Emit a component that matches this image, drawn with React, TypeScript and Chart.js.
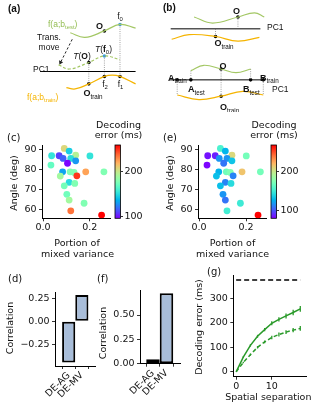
import React, { useEffect, useRef } from 'react';
import { Chart, registerables } from 'chart.js';
Chart.register(...registerables);

const W = 317, H = 411;
const FONT = '"DejaVu Sans", sans-serif';
const SFONT = '"Liberation Sans", Arial, sans-serif';
const GREEN_C = '#a3c764';
const ORANGE_C = '#f5b400';
const BLUE_PT = '#3a9ee0';
const DOT_C = '#8a8a8a';

// ---------- (c)/(e) data ----------
const MIXED_VAR = [0.091, 0.112, 0.037, 0.069, 0.086, 0.140, 0.201, 0.119, 0.140, 0.105, 0.034, 0.084, 0.116, 0.133, 0.145, 0.183, 0.261, 0.074, 0.112, 0.136, 0.091, 0.102, 0.112, 0.176, 0.119, 0.251];
const ANGLE = [90.3, 89.0, 86.7, 86.7, 85.4, 87.0, 86.6, 85.4, 84.2, 83.0, 82.1, 78.8, 78.8, 78.5, 76.8, 78.8, 78.8, 76.7, 73.6, 73.1, 71.9, 67.7, 64.9, 63.3, 59.6, 57.5];
const ERR_C = [207, 145, 153, 109, 116, 194, 153, 150, 129, 97, 169, 132, 178, 178, 248, 223, 178, 189, 150, 178, 174, 173, 189, 178, 235, 259];
const ERR_E = [155, 128, 85, 88, 118, 207, 170, 118, 133, 109, 82, 127, 168, 174, 113, 215, 170, 131, 113, 142, 131, 118, 109, 150, 152, 267];
const CB_C = [96, 259];
const CB_E = [81, 267];
const CB_TICKS = [100, 200];

// ---------- (d)/(f) data ----------
const BAR_LABELS = ['DE-AG', 'DE-MV'];
const CORR_D = [-0.45, 0.285];
const CORR_F = [0.045, 0.724];

// ---------- (g) data ----------
const SEPARATION = [0, 2, 4, 6, 8, 10, 12, 14, 16, 18];
const ERR_SOLID = [0, 60, 108, 145, 172, 198, 214, 228, 242, 257];
const ERR_SOLID_SD = [0, 3, 5, 6, 7, 8, 9, 10, 11, 12];
const ERR_DASHED = [0, 38, 70, 100, 122, 140, 152, 162, 170, 177];
const ERR_DASHED_SD = [0, 3, 4, 5, 6, 7, 8, 8, 9, 10];
const CHANCE = 375;

// ---------- (a)/(b) schematic (panel units) ----------
const A_TEST = [[68, 31], [83, 36], [103, 29], [119, 22], [135, 26]];
const A_MOVED = [[56, 65.5], [67, 70], [87, 63], [103, 56], [119, 60]];
const A_TRAIN = [[64, 90], [73, 91.5], [87, 86], [103, 78], [111, 76.5], [119, 78], [135, 86]];
const A_PC1 = [[37, 72.7], [135, 72.7]];
const A_ARROW = [[70, 38], [58, 63]];
const A_DOTTED = [[[119, 22], [119, 77.5]], [[103, 56], [103, 78]], [[87, 63], [87, 86]]];
const A_BLACK = [[103, 29], [87, 63], [103, 78], [119, 78], [87, 86]];
const A_BLUE = [[119, 22], [103, 56]];

const B_TEST_TOP = [[195, 14], [214, 20.5], [240, 14], [257, 9.5], [267, 14]];
const B_TRAIN_TOP = [[172, 38], [190, 33], [217, 35], [240, 40], [262, 36]];
const B_PC1_TOP = [[171, 26.7], [263, 26.7]];
const B_TEST_BOT = [[191.7, 71.7], [205, 66], [222.7, 70], [238, 74], [253, 70]];
const B_TRAIN_BOT = [[177.7, 98], [200, 103], [222.7, 99.3], [245, 94], [266, 98]];
const B_PC1_BOT = [[170, 81.7], [267, 81.7]];
const B_DOTTED = [[[240, 14], [240, 26.7]], [[217, 26.7], [217, 35]], [[191.7, 71.7], [191.7, 81.7]], [[253, 70], [253, 81.7]], [[177.7, 81.7], [177.7, 98]], [[266, 81.7], [266, 98]], [[222.7, 70], [222.7, 99.3]]];
const B_BLACK = [[240, 14], [217, 35], [222.7, 70], [177.7, 81.7], [191.7, 81.7], [253, 81.7], [266, 81.7], [222.7, 99.3]];

const rainbow = (t: number) => {
  t = Math.max(0, Math.min(1, t));
  const r = Math.min(1, Math.abs(2 * t - 0.5));
  const g = Math.sin(Math.PI * t);
  const b = Math.cos((Math.PI * t) / 2);
  return `rgb(${Math.round(r * 255)},${Math.round(g * 255)},${Math.round(b * 255)})`;
};

type Part = { t: string; sub?: boolean; b?: boolean; i?: boolean };
type Label = { x: number; y: number; p: Part[] | string; size?: number; color?: string; align?: 'left' | 'center' | 'right'; rot?: number; family?: string; bold?: boolean };

function drawRich(ctx: CanvasRenderingContext2D, it: Label) {
  const size = it.size ?? 9.5;
  const fam = it.family ?? FONT;
  const parts: Part[] = typeof it.p === 'string' ? [{ t: it.p }] : it.p;
  const fontOf = (p: Part) => `${p.i ? 'italic ' : ''}${p.b || it.bold ? 'bold ' : ''}${p.sub ? size * 0.7 : size}px ${fam}`;
  let total = 0;
  const widths = parts.map((p) => { ctx.font = fontOf(p); const w = ctx.measureText(p.t).width; total += w; return w; });
  ctx.save();
  ctx.translate(it.x, it.y);
  if (it.rot) ctx.rotate((it.rot * Math.PI) / 180);
  let x0 = it.align === 'left' ? 0 : it.align === 'right' ? -total : -total / 2;
  ctx.fillStyle = it.color ?? '#111';
  ctx.textBaseline = 'alphabetic';
  ctx.textAlign = 'left';
  const base = size * 0.36;
  parts.forEach((p, i) => { ctx.font = fontOf(p); ctx.fillText(p.t, x0, base + (p.sub ? size * 0.28 : 0)); x0 += widths[i]; });
  ctx.restore();
}

const textPlugin = {
  id: 'texts',
  afterDraw(chart: any, _a: any, opts: any) {
    (opts.items || []).forEach((it: Label) => drawRich(chart.ctx, it));
  },
};

const cbarPlugin = {
  id: 'cbar',
  beforeDatasetsDraw(chart: any) {
    const { ctx, chartArea: a } = chart;
    const g = ctx.createLinearGradient(0, a.bottom, 0, a.top);
    for (let i = 0; i <= 24; i++) g.addColorStop(i / 24, rainbow(i / 24));
    ctx.save();
    ctx.fillStyle = g;
    ctx.fillRect(a.left, a.top, a.right - a.left, a.bottom - a.top);
    ctx.strokeStyle = '#000';
    ctx.lineWidth = 0.8;
    ctx.strokeRect(a.left, a.top, a.right - a.left, a.bottom - a.top);
    ctx.restore();
  },
};

const errPlugin = {
  id: 'errbars',
  afterDatasetsDraw(chart: any, _a: any, opts: any) {
    const { ctx } = chart;
    const xs = chart.scales.x, ys = chart.scales.y;
    (opts.sets || []).forEach((s: any) => {
      ctx.save();
      ctx.strokeStyle = s.color;
      ctx.lineWidth = 1.3;
      s.x.forEach((xv: number, i: number) => {
        const e = s.err[i];
        if (!e) return;
        const px = xs.getPixelForValue(xv);
        ctx.beginPath();
        ctx.moveTo(px, ys.getPixelForValue(s.y[i] - e));
        ctx.lineTo(px, ys.getPixelForValue(s.y[i] + e));
        ctx.stroke();
      });
      ctx.restore();
    });
  },
};

const fix = (size: number, horiz: boolean) => (s: any) => {
  if (horiz) s.height = size; else s.width = size;
  s.paddingLeft = 0; s.paddingRight = 0; s.paddingTop = 0; s.paddingBottom = 0;
};

type Area = { l: number; t: number; r: number; b: number };
const pad = (a: Area, yW: number, xH: number, rightW = 0) => ({ left: a.l - yW, top: a.t, right: W - a.r - rightW, bottom: H - a.b - xH });

const tickFont = { family: FONT, size: 9.5 };
const gridTicks = { display: true, drawOnChartArea: false, drawTicks: true, tickLength: 3, tickColor: '#000', tickWidth: 0.8 };
const spine = { display: true, color: '#000', width: 1 };
const base = { responsive: false, animation: false as const, events: [] as any[] };

function scatterCfg(area: Area, errs: number[], cb: number[], labels: Label[]) {
  return {
    type: 'scatter',
    data: {
      datasets: [{
        data: MIXED_VAR.map((x, i) => ({ x, y: ANGLE[i] })),
        pointBackgroundColor: errs.map((v) => rainbow((v - cb[0]) / (cb[1] - cb[0]))),
        pointBorderWidth: 0,
        pointRadius: 3.4,
      }],
    },
    options: {
      ...base,
      layout: { padding: pad(area, 30, 20) },
      plugins: { legend: { display: false }, tooltip: { enabled: false }, texts: { items: labels } },
      scales: {
        x: {
          type: 'linear', min: -0.0043, max: 0.287,
          afterBuildTicks: (s: any) => { s.ticks = [{ value: 0 }, { value: 0.2 }]; },
          ticks: { font: tickFont, color: '#111', padding: 1, callback: (v: number) => v.toFixed(1) },
          grid: gridTicks, border: spine, afterFit: fix(20, true),
        },
        y: {
          type: 'linear', min: 55.9, max: 92,
          afterBuildTicks: (s: any) => { s.ticks = [60, 70, 80, 90].map((value) => ({ value })); },
          ticks: { font: tickFont, color: '#111', padding: 2.5 },
          grid: gridTicks, border: spine, afterFit: fix(30, false),
        },
      },
    },
    plugins: [textPlugin],
  };
}

function cbarCfg(area: Area, cb: number[]) {
  return {
    type: 'scatter',
    data: { datasets: [] },
    options: {
      ...base,
      layout: { padding: pad(area, 0, 0, 25) },
      plugins: { legend: { display: false }, tooltip: { enabled: false } },
      scales: {
        x: { display: false, min: 0, max: 1 },
        y: {
          position: 'right', min: cb[0], max: cb[1],
          afterBuildTicks: (s: any) => { s.ticks = CB_TICKS.map((value) => ({ value })); },
          ticks: { font: tickFont, color: '#111', padding: 1.5 },
          grid: { ...gridTicks, tickLength: 2.5 }, border: { display: false }, afterFit: fix(25, false),
        },
      },
    },
    plugins: [cbarPlugin],
  };
}

function barCfg(area: Area, vals: number[], xr: number[], yr: number[], yTicks: number[], labels: Label[]) {
  return {
    type: 'bar',
    data: {
      datasets: [{
        data: vals.map((y, i) => ({ x: i, y })),
        backgroundColor: '#a8bdd9', borderColor: '#000', borderWidth: 2, borderSkipped: false,
        barPercentage: 1, categoryPercentage: 1, inflateAmount: 0,
      }],
    },
    options: {
      ...base,
      layout: { padding: pad(area, 45, 40) },
      plugins: { legend: { display: false }, tooltip: { enabled: false }, texts: { items: labels } },
      scales: {
        x: {
          type: 'linear', min: xr[0], max: xr[1], offset: false,
          afterBuildTicks: (s: any) => { s.ticks = [{ value: 0 }, { value: 1 }]; },
          ticks: { font: tickFont, color: '#111', padding: 1, minRotation: 45, maxRotation: 45, autoSkip: false, callback: (v: number) => BAR_LABELS[v] },
          grid: gridTicks, border: spine, afterFit: fix(40, true),
        },
        y: {
          type: 'linear', min: yr[0], max: yr[1],
          afterBuildTicks: (s: any) => { s.ticks = yTicks.map((value) => ({ value })); },
          ticks: { font: tickFont, color: '#111', padding: 2.5, callback: (v: number) => (v < 0 ? '\u2212' : '') + Math.abs(v).toFixed(2) },
          grid: gridTicks, border: spine, afterFit: fix(45, false),
        },
      },
    },
    plugins: [textPlugin],
  };
}

function lineCfg(area: Area, labels: Label[]) {
  const pts = (ys: number[]) => SEPARATION.map((x, i) => ({ x, y: ys[i] }));
  return {
    type: 'scatter',
    data: {
      datasets: [
        { data: [{ x: SEPARATION[0], y: CHANCE }, { x: SEPARATION[SEPARATION.length - 1], y: CHANCE }], showLine: true, borderColor: '#000', borderWidth: 1.5, borderDash: [5, 3], pointRadius: 0 },
        { data: pts(ERR_SOLID), showLine: true, borderColor: '#2a9a2a', borderWidth: 1.5, pointRadius: 0, tension: 0 },
        { data: pts(ERR_DASHED), showLine: true, borderColor: '#2a9a2a', borderWidth: 1.5, borderDash: [4, 2.5], pointRadius: 0, tension: 0 },
      ],
    },
    options: {
      ...base,
      layout: { padding: pad(area, 40, 20) },
      plugins: {
        legend: { display: false }, tooltip: { enabled: false }, texts: { items: labels },
        errbars: { sets: [{ x: SEPARATION, y: ERR_SOLID, err: ERR_SOLID_SD, color: '#2a9a2a' }, { x: SEPARATION, y: ERR_DASHED, err: ERR_DASHED_SD, color: '#2a9a2a' }] },
      },
      scales: {
        x: {
          type: 'linear', min: -0.8, max: 19.8,
          afterBuildTicks: (s: any) => { s.ticks = [{ value: 0 }, { value: 10 }]; },
          ticks: { font: tickFont, color: '#111', padding: 1 },
          grid: gridTicks, border: spine, afterFit: fix(20, true),
        },
        y: {
          type: 'linear', min: -20, max: 395,
          afterBuildTicks: (s: any) => { s.ticks = [0, 100, 200, 300].map((value) => ({ value })); },
          ticks: { font: tickFont, color: '#111', padding: 2.5 },
          grid: gridTicks, border: spine, afterFit: fix(40, false),
        },
      },
    },
    plugins: [textPlugin, errPlugin],
  };
}

function schematicCfg() {
  const toPts = (a: number[][]) => a.map(([x, y]) => ({ x, y }));
  const curve = (a: number[][], color: string, dash: number[] = [], w = 1.2) => ({ data: toPts(a), showLine: true, borderColor: color, borderWidth: w, borderDash: dash, pointRadius: 0, tension: 0.4 });
  const seg = (a: number[][], color: string, w: number, dash: number[] = []) => ({ data: toPts(a), showLine: true, borderColor: color, borderWidth: w, borderDash: dash, pointRadius: 0, tension: 0 });
  const dots = (a: number[][], color: string) => ({ data: toPts(a), showLine: false, pointRadius: 1.8, pointBackgroundColor: color, pointBorderWidth: 0 });
  const [ax0, ay0] = A_ARROW[0];
  const [ax1, ay1] = A_ARROW[1];
  const arrowRot = (Math.atan2(ax1 - ax0, -(ay1 - ay0)) * 180) / Math.PI;
  const sets: any[] = [
    curve(A_TEST, GREEN_C), curve(A_MOVED, GREEN_C, [3, 2]), curve(A_TRAIN, ORANGE_C),
    seg(A_PC1, '#000', 1), seg(A_ARROW, '#222', 1, [2.5, 2]),
    { data: toPts([A_ARROW[1]]), showLine: false, pointStyle: 'triangle', rotation: arrowRot, pointRadius: 2.6, pointBackgroundColor: '#222', pointBorderWidth: 0 },
    ...A_DOTTED.map((d) => seg(d, DOT_C, 0.8, [1, 1.2])),
    dots(A_BLACK, '#000'), dots(A_BLUE, BLUE_PT),
    curve(B_TEST_TOP, GREEN_C), curve(B_TRAIN_TOP, ORANGE_C), seg(B_PC1_TOP, '#555', 1.5),
    curve(B_TEST_BOT, GREEN_C), curve(B_TRAIN_BOT, ORANGE_C), seg(B_PC1_BOT, '#000', 1),
    ...B_DOTTED.map((d) => seg(d, DOT_C, 0.8, [1, 1.2])),
    dots(B_BLACK, '#000'),
  ];
  const O = (extra: Part[] = []): Part[] => [{ t: 'O', b: true }, ...extra];
  const labels: Label[] = [
    { x: 8, y: 8, p: '(a)', bold: true, size: 10, align: 'left', family: SFONT },
    { x: 48, y: 23.5, p: [{ t: 'f(a;b' }, { t: 'test', sub: true }, { t: ')' }], size: 8.5, color: '#93bd52', align: 'left', family: SFONT },
    { x: 99.5, y: 25.5, p: O(), size: 9, family: SFONT },
    { x: 120, y: 16, p: [{ t: 'f' }, { t: '0', sub: true }], size: 8.5, family: SFONT },
    { x: 49, y: 37, p: 'Trans.', size: 8.5, family: SFONT },
    { x: 49, y: 47, p: 'move', size: 8.5, family: SFONT },
    { x: 82, y: 55.5, p: [{ t: 'T', i: true }, { t: '(' }, { t: 'O', b: true }, { t: ')' }], size: 8.5, family: SFONT },
    { x: 103.5, y: 49, p: [{ t: 'T', i: true }, { t: '(' }, { t: 'f', b: true }, { t: '0', sub: true }, { t: ')' }], size: 8.5, family: SFONT },
    { x: 33, y: 68.5, p: 'PC1', size: 8.5, align: 'left', family: SFONT },
    { x: 105, y: 83.5, p: [{ t: 'f' }, { t: '2', sub: true }], size: 8.5, family: SFONT },
    { x: 120.5, y: 83.5, p: [{ t: 'f' }, { t: '1', sub: true }], size: 8.5, family: SFONT },
    { x: 93, y: 93, p: O([{ t: 'train', sub: true }]), size: 9, family: SFONT },
    { x: 27, y: 97, p: [{ t: 'f(a;b' }, { t: 'train', sub: true }, { t: ')' }], size: 8.5, color: ORANGE_C, align: 'left', family: SFONT },
    { x: 163, y: 7.5, p: '(b)', bold: true, size: 10, align: 'left', family: SFONT },
    { x: 236.5, y: 10.5, p: O(), size: 9, family: SFONT },
    { x: 267, y: 27, p: 'PC1', size: 8.5, align: 'left', family: SFONT },
    { x: 224, y: 43, p: O([{ t: 'train', sub: true }]), size: 9, family: SFONT },
    { x: 223, y: 66, p: O(), size: 9, family: SFONT },
    { x: 168, y: 77.5, p: [{ t: 'A', b: true }, { t: 'train', sub: true }], size: 9, align: 'left', family: SFONT },
    { x: 188, y: 89, p: [{ t: 'A', b: true }, { t: 'test', sub: true }], size: 9, align: 'left', family: SFONT },
    { x: 243, y: 89, p: [{ t: 'B', b: true }, { t: 'test', sub: true }], size: 9, align: 'left', family: SFONT },
    { x: 260, y: 77.5, p: [{ t: 'B', b: true }, { t: 'train', sub: true }], size: 9, align: 'left', family: SFONT },
    { x: 272, y: 88.5, p: 'PC1', size: 8.5, align: 'left', family: SFONT },
    { x: 220, y: 107, p: O([{ t: 'train', sub: true }]), size: 9, align: 'left', family: SFONT },
  ];
  return {
    type: 'scatter',
    data: { datasets: sets },
    options: {
      ...base,
      layout: { padding: 0 },
      plugins: { legend: { display: false }, tooltip: { enabled: false }, texts: { items: labels } },
      scales: { x: { display: false, min: 0, max: W }, y: { display: false, min: 0, max: 112, reverse: true } },
    },
    plugins: [textPlugin],
  };
}

function ChartCanvas({ make, w = W, h = H }: { make: () => any; w?: number; h?: number }) {
  const ref = useRef<HTMLCanvasElement>(null);
  useEffect(() => {
    const c = new Chart(ref.current as HTMLCanvasElement, make());
    return () => c.destroy();
  }, []);
  return <canvas ref={ref} width={w} height={h} style={{ position: 'absolute', left: 0, top: 0, width: w, height: h }} />;
}

const AREA_C = { l: 42, t: 145, r: 110, b: 218.3 };
const AREA_E = { l: 198, t: 145, r: 266.5, b: 218.3 };
const AREA_CB_C = { l: 115, t: 145, r: 120.5, b: 218.3 };
const AREA_CB_E = { l: 271, t: 145, r: 276.5, b: 218.3 };
const AREA_D = { l: 55, t: 292.7, r: 95, b: 366 };
const AREA_F = { l: 140, t: 290, r: 180, b: 363.7 };
const AREA_G = { l: 233.3, t: 275, r: 306.7, b: 376.7 };

const labelsC: Label[] = [
  { x: 7, y: 137, p: '(c)', size: 10, align: 'left' },
  { x: 14, y: 183, p: 'Angle (deg)', rot: -90 },
  { x: 77, y: 243, p: 'Portion of' },
  { x: 77.5, y: 254, p: 'mixed variance' },
  { x: 118.5, y: 125, p: 'Decoding' },
  { x: 118.5, y: 135, p: 'error (ms)' },
];
const labelsE: Label[] = [
  { x: 163, y: 137, p: '(e)', size: 10, align: 'left' },
  { x: 170, y: 183, p: 'Angle (deg)', rot: -90 },
  { x: 232.5, y: 243, p: 'Portion of' },
  { x: 232.5, y: 254, p: 'mixed variance' },
  { x: 274, y: 125, p: 'Decoding' },
  { x: 274, y: 135, p: 'error (ms)' },
];
const labelsD: Label[] = [
  { x: 8, y: 278, p: '(d)', size: 10, align: 'left' },
  { x: 10, y: 328, p: 'Correlation', rot: -90 },
];
const labelsF: Label[] = [
  { x: 97, y: 278, p: '(f)', size: 10, align: 'left' },
  { x: 103, y: 333, p: 'Correlation', rot: -90 },
];
const labelsG: Label[] = [
  { x: 207, y: 271, p: '(g)', size: 10, align: 'left' },
  { x: 199, y: 327, p: 'Decoding error (ms)', rot: -90 },
  { x: 268.3, y: 396.7, p: 'Spatial separation' },
];

export default function App() {
  return (
    <div style={{ position: 'fixed', left: 0, top: 0, width: W, height: H, background: '#fff', overflow: 'hidden' }}>
      <ChartCanvas make={schematicCfg} w={W} h={112} />
      <ChartCanvas make={() => scatterCfg(AREA_C, ERR_C, CB_C, labelsC)} />
      <ChartCanvas make={() => cbarCfg(AREA_CB_C, CB_C)} />
      <ChartCanvas make={() => scatterCfg(AREA_E, ERR_E, CB_E, labelsE)} />
      <ChartCanvas make={() => cbarCfg(AREA_CB_E, CB_E)} />
      <ChartCanvas make={() => barCfg(AREA_D, CORR_D, [-1.04, 2.0], [-0.487, 0.311], [-0.25, 0, 0.25], labelsD)} />
      <ChartCanvas make={() => barCfg(AREA_F, CORR_F, [-0.96, 2.0], [0, 0.757], [0, 0.25, 0.5], labelsF)} />
      <ChartCanvas make={() => lineCfg(AREA_G, labelsG)} />
    </div>
  );
}
